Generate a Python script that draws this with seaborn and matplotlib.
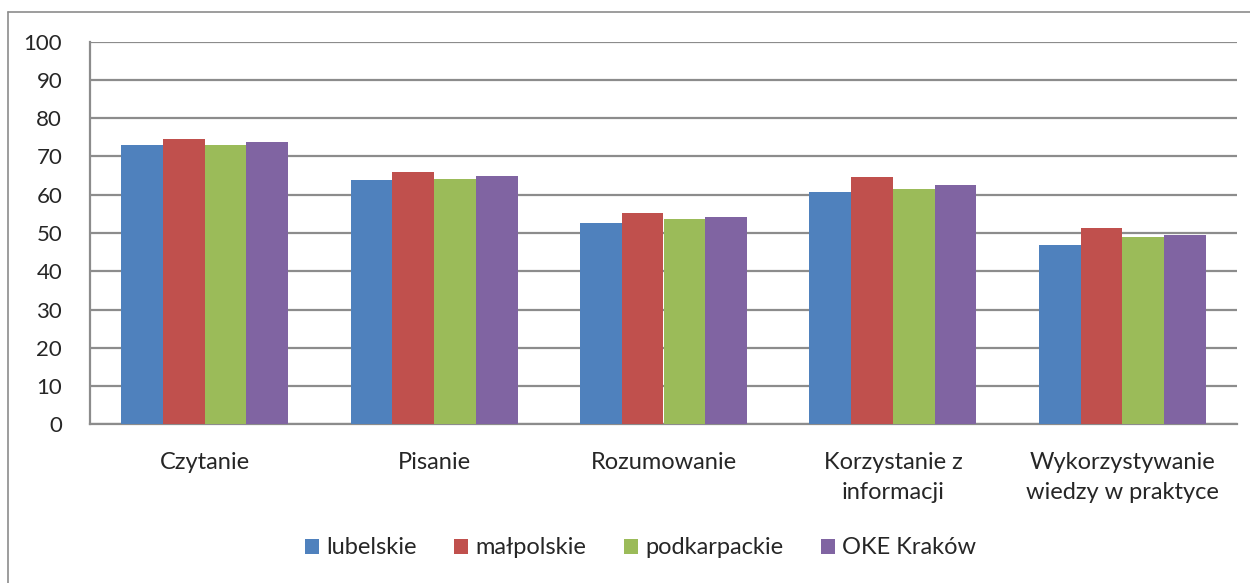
import pandas as pd
import numpy as np
import matplotlib
matplotlib.use("Agg")
import matplotlib.pyplot as plt
import seaborn as sns
from matplotlib.lines import Line2D

# ************* DATA *****************
categories = ["Czytanie", "Pisanie", "Rozumowanie", "Korzystanie z\ninformacji",
              "Wykorzystywanie\nwiedzy w praktyce"]
lubelskie = [73.0, 63.8, 52.7, 60.6, 46.9]
malopolskie = [74.6, 65.9, 55.2, 64.6, 51.4]
podkarpackie = [73.0, 64.2, 53.7, 61.4, 48.9]
oke_krakow = [73.7, 64.9, 54.1, 62.5, 49.5]
series_names = ["lubelskie", "małpolskie", "podkarpackie", "OKE Kraków"]
colors = ["#4F81BD", "#C0504D", "#9BBB59", "#8064A2"]

rows = []
for name, vals in zip(series_names, [lubelskie, malopolskie, podkarpackie, oke_krakow]):
    for cat, v in zip(categories, vals):
        rows.append({"kategoria": cat, "seria": name, "wynik": v})
df = pd.DataFrame(rows)

# ************* PLOT *****************
sns.set_style("white")
plt.rcParams["font.family"] = ["Lato", "DejaVu Sans"]

W, H = 1250, 583
fig = plt.figure(figsize=(W / 100, H / 100), dpi=100)
ax = fig.add_axes([90 / W, 1 - 424.3 / H, (1237 - 90) / W, (424.3 - 41.7) / H])

sns.barplot(data=df, x="kategoria", y="wynik", hue="seria", palette=colors,
            width=4 / 5.5, gap=0, saturation=1, ax=ax, zorder=3,
            edgecolor="none")

ax.set_ylim(0, 100)
ax.set_xlim(-0.5, 4.5)
ax.set_yticks(range(0, 101, 10))
ax.yaxis.grid(True, color="#8c8c8c", linewidth=1.6, zorder=0)
ax.set_axisbelow(True)
ax.set_xlabel("")
ax.set_ylabel("")

for side in ["top", "right"]:
    ax.spines[side].set_visible(False)
for side in ["left", "bottom"]:
    ax.spines[side].set_color("#8c8c8c")
    ax.spines[side].set_linewidth(1.6)

ax.tick_params(axis="y", length=6, width=1.6, color="#8c8c8c", direction="out",
               labelsize=16, pad=14)
ax.tick_params(axis="x", length=0, labelsize=17, pad=20)
for lbl in ax.get_xticklabels():
    lbl.set_linespacing(1.5)
# category boundary ticks like Excel
ax.set_xticks(np.arange(-0.5, 5, 1), minor=True)
ax.tick_params(axis="x", which="minor", length=6, width=1.6, color="#8c8c8c", direction="out")

ax.legend(loc="center", bbox_to_anchor=(0.48, -0.323), ncol=4, frameon=False,
          fontsize=17, handlelength=0.6, handleheight=0.6, handletextpad=0.3,
          columnspacing=1.6)

# chart border (left and top edges visible in the reference)
fig.add_artist(Line2D([8 / W, 8 / W], [0, 1 - 12 / H], transform=fig.transFigure,
                      color="#8c8c8c", linewidth=1.2))
fig.add_artist(Line2D([8 / W, 1], [1 - 12 / H, 1 - 12 / H], transform=fig.transFigure,
                      color="#8c8c8c", linewidth=1.2))

fig.savefig("out.png", dpi=100)
